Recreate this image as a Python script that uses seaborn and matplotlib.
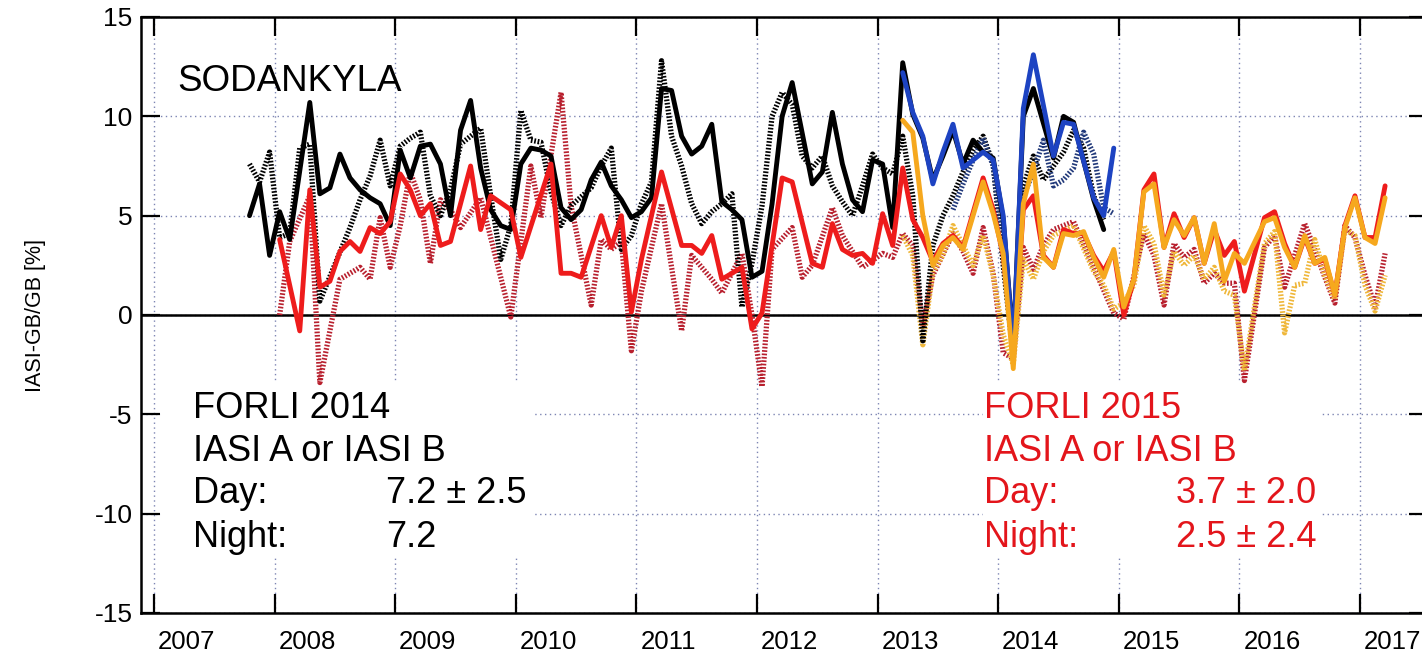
import numpy as np
import pandas as pd
import matplotlib
matplotlib.use("Agg")
import matplotlib.pyplot as plt
from matplotlib.patches import Rectangle
import seaborn as sns

# ---- monthly series (months counted from Jan 2007, value in %) ----
day14_a_month = [9, 10, 11, 12, 13, 15, 16, 17, 18, 19, 20, 21, 22, 23, 24, 25, 26, 27, 28, 29,
                 30, 31, 32, 33, 34, 35, 36, 37, 38, 39, 40, 41, 42, 43, 44, 45, 46, 47, 48, 49,
                 50, 51, 52, 53, 54, 55, 56, 57, 58, 59, 60, 61, 62, 63, 65, 66, 67, 68, 69, 70,
                 71, 72, 73, 74, 75, 76, 77, 78, 79, 80, 81, 82, 83, 84, 85, 86, 87, 89, 90, 91,
                 93, 94]
day14_a_val = [5.0, 6.6, 3.0, 5.2, 3.8, 10.7, 6.1, 6.4, 8.1, 6.9, 6.3, 5.9, 5.6, 4.5, 8.3, 6.9, 8.5, 8.6, 7.6, 5.0,
               9.3, 10.8, 7.4, 5.3, 4.5, 4.3, 7.6, 8.4, 8.3, 8.0, 5.4, 4.8, 5.3, 6.8, 7.7, 6.5, 5.8, 4.9, 5.2, 5.9,
               11.4, 11.3, 9.0, 8.1, 8.5, 9.6, 5.7, 5.3, 4.8, 1.9, 2.2, 5.6, 10.0, 11.7, 6.6, 7.2, 10.2, 7.6, 5.8, 5.2,
               7.8, 7.6, 4.4, 12.7, 10.1, 8.9, 6.8, 8.0, 9.3, 7.6, 8.8, 8.2, 7.9, 4.8, -1.5, 10.0, 11.4, 7.9, 10.0, 9.7,
               5.8, 4.3]

night14_a_month = [9, 10, 11, 12, 13, 14, 15, 16, 19, 20, 21, 22, 23, 24, 25, 26, 27, 28, 29, 30,
                   31, 32, 33, 34, 35, 36, 37, 38, 39, 40, 41, 43, 44, 45, 46, 47, 48, 49, 50, 51,
                   52, 53, 54, 55, 56, 57, 58, 59, 60, 61, 62, 63, 64, 65, 66, 67, 68, 69, 70, 71,
                   72, 73, 74, 75, 76, 77, 78, 79, 80, 81, 82, 83, 84, 85, 86, 87, 88, 89, 90, 91,
                   92, 93, 94]
night14_a_val = [7.6, 6.7, 8.2, 3.9, 4.1, 8.4, 8.6, 0.7, 4.4, 5.8, 7.0, 8.8, 6.5, 8.5, 8.9, 9.2, 6.0, 5.0, 6.3, 8.6,
                 9.0, 9.4, 6.0, 2.8, 4.5, 10.3, 8.8, 8.7, 6.2, 4.5, 5.5, 6.4, 7.5, 8.4, 3.3, 4.0, 5.6, 6.7, 12.8, 9.0,
                 7.5, 5.6, 4.6, 5.2, 5.6, 6.1, 0.4, 2.6, 5.5, 10.0, 11.2, 10.6, 8.0, 7.4, 8.0, 6.5, 5.7, 5.0, 6.5, 8.1,
                 7.4, 7.1, 9.0, 6.0, -1.3, 3.5, 5.0, 6.0, 7.2, 8.3, 9.0, 7.6, 2.5, -2.0, 6.5, 8.0, 6.8, 7.5, 8.2, 9.3,
                 8.4, 6.0, 4.8]

day14_b_month = [74, 75, 76, 77, 78, 79, 80, 81, 82, 83, 84, 85, 86, 87, 89, 90, 91, 93, 94, 95]
day14_b_val = [12.2, 10.2, 9.0, 6.6, 8.2, 9.6, 7.4, 7.8, 8.2, 7.8, 5.0, -1.8, 10.4, 13.1, 8.0, 9.7, 9.6, 5.9, 5.0, 8.4]

night14_b_month = [79, 80, 81, 82, 83, 84, 85, 86, 87, 88, 89, 90, 91, 92, 93, 94, 95]
night14_b_val = [5.3, 6.6, 7.8, 8.9, 7.5, 3.5, -1.2, 6.0, 7.2, 8.8, 6.5, 6.8, 7.4, 9.2, 8.1, 5.4, 5.1]

day15_a_month = [12, 14, 15, 16, 17, 18, 19, 20, 21, 22, 23, 24, 25, 26, 27, 28, 29, 31, 32, 33,
                 35, 36, 39, 40, 41, 42, 44, 45, 46, 47, 48, 50, 52, 53, 54, 55, 56, 58, 59, 60,
                 62, 63, 65, 66, 67, 68, 69, 70, 71, 72, 73, 74, 75, 76, 77, 78, 79, 80, 82, 83,
                 84, 85, 86, 87, 88, 89, 90, 91, 92, 93, 94, 95, 96, 97, 98, 99, 100, 101, 102, 103,
                 104, 105, 106, 107, 108, 110, 111, 112, 113, 114, 115, 116, 117, 118, 119, 120, 121, 122]
day15_a_val = [3.8, -0.8, 6.3, 1.4, 1.7, 3.2, 3.7, 3.2, 4.4, 4.1, 4.7, 7.1, 6.3, 5.0, 5.6, 3.5, 3.7, 7.5, 4.3, 6.0,
               5.3, 2.9, 7.6, 2.1, 2.1, 1.9, 5.0, 3.4, 5.0, 0.15, 2.8, 7.2, 3.5, 3.5, 3.1, 4.0, 1.8, 2.4, -0.7, 0.1,
               6.9, 6.7, 2.6, 2.4, 4.6, 3.3, 3.0, 3.1, 2.6, 5.1, 3.5, 7.4, 4.8, 3.9, 2.7, 3.6, 4.0, 3.4, 6.9, 5.3,
               3.0, -2.0, 5.3, 6.0, 3.0, 2.4, 4.3, 4.1, 4.1, 3.0, 2.2, 3.2, 0.0, 1.8, 6.3, 7.1, 3.4, 5.1, 3.9, 4.9,
               2.6, 4.3, 3.0, 3.7, 1.2, 4.9, 5.2, 3.6, 2.4, 3.9, 2.6, 2.8, 1.0, 4.5, 6.0, 3.9, 3.9, 6.5]

night15_a_month = [12, 13, 15, 16, 18, 19, 20, 21, 22, 23, 24, 25, 26, 27, 28, 29, 30, 32, 35, 37,
                   38, 40, 41, 43, 44, 45, 46, 47, 48, 50, 52, 53, 55, 56, 58, 59, 60, 61, 63, 64,
                   65, 67, 68, 70, 72, 73, 74, 75, 76, 77, 79, 80, 81, 82, 83, 84, 85, 86, 87, 88,
                   89, 91, 93, 95, 96, 98, 99, 100, 101, 102, 103, 104, 105, 106, 107, 108, 110, 111, 112, 114,
                   115, 116, 117, 118, 119, 120, 121, 122]
night15_a_val = [0.0, 3.7, 6.0, -3.4, 1.8, 2.1, 2.4, 1.8, 4.9, 2.4, 4.5, 7.2, 5.8, 2.6, 5.8, 5.3, 4.4, 5.9, -0.1, 7.5,
                 4.9, 11.2, 5.5, 0.5, 3.8, 3.3, 3.7, -1.8, 1.2, 5.6, -0.8, 3.0, 1.8, 1.1, 3.1, 0.0, -3.6, 3.3, 4.4, 1.9,
                 2.5, 5.4, 4.0, 2.4, 3.1, 2.9, 4.1, 3.5, -0.6, 2.0, 4.1, 3.2, 2.1, 4.4, 2.1, -1.9, -2.2, 3.4, 2.3, 3.5,
                 4.3, 4.7, 2.4, 0.1, -0.2, 4.1, 3.0, 0.5, 3.6, 2.9, 3.3, 1.6, 2.1, 1.6, 1.6, -3.3, 3.4, 4.0, 1.4, 4.6,
                 3.3, 1.9, 0.6, 4.5, 3.9, 2.0, 0.4, 3.1]

day15_b_month = [74, 75, 76, 77, 78, 79, 80, 82, 83, 84, 85, 86, 87, 88, 89, 90, 91, 92, 93, 94,
                 95, 96, 97, 98, 99, 100, 101, 102, 103, 104, 105, 106, 107, 108, 110, 111, 112, 113, 114, 115,
                 116, 117, 118, 119, 120, 121, 122]
day15_b_val = [9.8, 9.2, 5.0, 2.5, 3.5, 3.9, 3.3, 6.7, 5.1, 3.1, -2.7, 5.6, 7.6, 2.9, 2.4, 4.1, 4.0, 4.2, 2.9, 1.9,
               3.3, 0.4, 1.8, 6.2, 6.6, 3.4, 4.8, 4.0, 4.9, 2.6, 4.6, 1.7, 3.1, 2.6, 4.7, 4.9, 3.4, 2.4, 4.0, 2.6,
               2.9, 1.0, 4.4, 5.9, 3.9, 3.6, 5.9]

night15_b_month = [74, 75, 76, 77, 78, 79, 80, 81, 82, 83, 84, 85, 86, 87, 88, 89, 91, 93, 94, 95,
                   96, 97, 98, 99, 100, 101, 102, 103, 104, 105, 106, 107, 108, 110, 111, 112, 113, 114, 115, 116,
                   117, 118, 119, 120, 121, 122]
night15_b_val = [4.0, 3.0, -1.5, 2.2, 3.0, 4.5, 3.5, 2.5, 4.0, 2.0, -1.0, -2.5, 2.8, 1.8, 3.2, 4.0, 4.5, 2.2, 1.5, 0.3,
                 0.6, 1.5, 4.5, 3.6, 1.0, 3.2, 2.5, 3.0, 1.8, 2.4, 1.2, 1.0, -2.8, 3.6, 4.2, -0.9, 1.5, 1.6, 3.8, 2.0,
                 0.8, 4.3, 4.0, 1.5, 0.2, 2.0]

years = list(range(2007, 2018))
year_labels = [str(y) for y in years]
y_ticks = [-15, -10, -5, 0, 5, 10, 15]

stats14 = [("FORLI 2014", ""), ("IASI A or IASI B", ""), ("Day:", "7.2 \u00b1 2.5"), ("Night:", "7.2")]
stats15 = [("FORLI 2015", ""), ("IASI A or IASI B", ""), ("Day:", "3.7 \u00b1 2.0"), ("Night:", "2.5 \u00b1 2.4")]

# ---- style ----
sns.set_style("ticks")
plt.rcParams["font.family"] = ["Liberation Sans", "DejaVu Sans"]
plt.rcParams["text.color"] = "black"
plt.rcParams["xtick.color"] = "black"
plt.rcParams["ytick.color"] = "black"
plt.rcParams["xtick.labelcolor"] = "black"
plt.rcParams["ytick.labelcolor"] = "black"

BLACK = "#000000"
RED = "#ee1c1c"
BLUE = "#1d43c2"
ORANGE = "#f6a81e"
RED_DOT = "#b8202e"
BLUE_DOT = "#21397a"
ORANGE_DOT = "#efb73a"
DOT = (0, (0.32, 0.32))

fig = plt.figure(figsize=(14.22, 6.56), dpi=100)
ax = fig.add_axes([141 / 1422, 43 / 656, 1287 / 1422, 596 / 656])


def to_frame(months, values):
    m = np.asarray(months, dtype=float)
    return pd.DataFrame({"t": 2007 + (m + 0.5) / 12.0, "v": values})


series = [
    (night15_a_month, night15_a_val, RED_DOT, DOT, 3.8),
    (night15_b_month, night15_b_val, ORANGE_DOT, DOT, 3.8),
    (night14_a_month, night14_a_val, BLACK, DOT, 3.8),
    (night14_b_month, night14_b_val, BLUE_DOT, DOT, 3.8),
    (day14_a_month, day14_a_val, BLACK, "-", 3.5),
    (day15_a_month, day15_a_val, RED, "-", 3.5),
    (day14_b_month, day14_b_val, BLUE, "-", 3.5),
    (day15_b_month, day15_b_val, ORANGE, "-", 3.5),
]
for months, vals, col, ls, lw in series:
    df = to_frame(months, vals)
    sns.lineplot(data=df, x="t", y="v", ax=ax, color=col, linestyle=ls, linewidth=lw,
                 sort=False, estimator=None, zorder=3)

ax.axhline(0, color="black", lw=1.8, zorder=2.5)

# white backing behind the statistics blocks
for x0, x1 in [(0.0155, 0.3038), (0.6542, 0.9177)]:
    ax.add_patch(Rectangle((x0, 0.094), x1 - x0, 0.2936, transform=ax.transAxes,
                           facecolor="white", edgecolor="none", zorder=1))

ax.set_xlim(2006.892, 2017.564)
ax.set_ylim(-15, 15)
ax.set_xticks(years)
ax.set_xticklabels([""] * len(years))
ax.set_xticks([y + 0.27 for y in years], minor=True)
ax.set_xticklabels(year_labels, minor=True)
ax.set_yticks(y_ticks)
ax.set_yticklabels([str(v) for v in y_ticks])
ax.tick_params(axis="both", which="major", direction="in", length=14, width=1.6,
               top=True, right=True, labelsize=19, color="black", labelcolor="black")
ax.tick_params(axis="x", which="minor", length=0, pad=12, labelsize=18.5, top=False,
               labelcolor="black")
ax.tick_params(axis="y", which="major", pad=6)
ax.set_xlabel("")
ax.set_ylabel("")
for sp in ax.spines.values():
    sp.set_visible(True)
    sp.set_linewidth(1.8)
    sp.set_color("black")

ax.set_axisbelow(True)
ax.grid(True, which="major", color="#7d85b3", linestyle=(0, (1, 2.5)), linewidth=1.0, zorder=0.5)

fig.text(36 / 1422, 1 - 315 / 656, "IASI-GB/GB [%]", rotation=90, ha="center", va="center",
         fontsize=15.5, color="black")

ax.text(0.028, 0.876, "SODANKYLA", transform=ax.transAxes, fontsize=26.5, va="baseline", ha="left",
        color="black", zorder=5)

baselines = [0.3272, 0.2550, 0.1846, 0.1107]
for (lab, val), yb in zip(stats14, baselines):
    ax.text(0.0404, yb, lab, transform=ax.transAxes, fontsize=26, va="baseline", ha="left", color="black", zorder=5)
    if val:
        ax.text(0.1904, yb, val, transform=ax.transAxes, fontsize=26, va="baseline", ha="left", color="black", zorder=5)
for (lab, val), yb in zip(stats15, baselines):
    ax.text(0.6550, yb, lab, transform=ax.transAxes, fontsize=26, va="baseline", ha="left", color="#e3151b", zorder=5)
    if val:
        ax.text(0.8042, yb, val, transform=ax.transAxes, fontsize=26, va="baseline", ha="left", color="#e3151b", zorder=5)

fig.savefig("out.png", dpi=100)
